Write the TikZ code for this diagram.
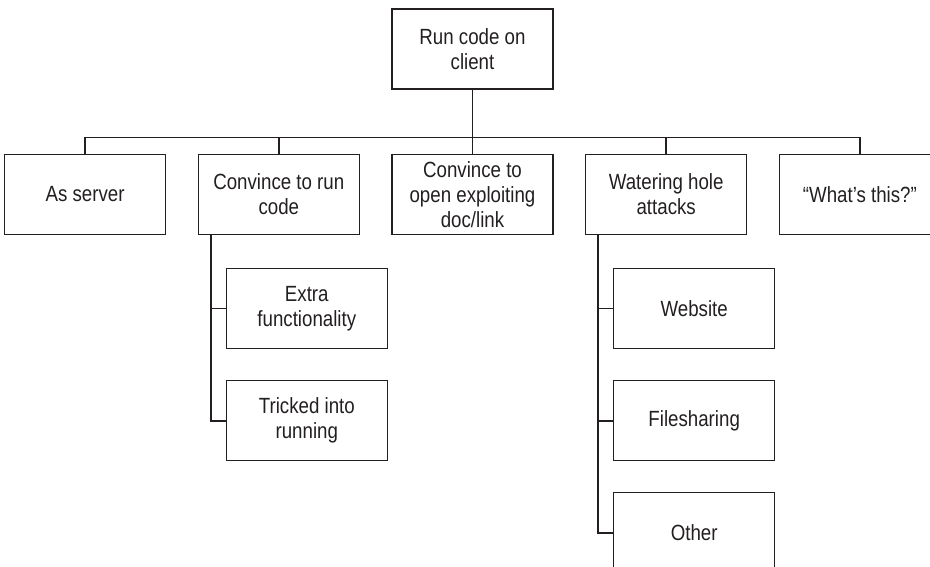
\documentclass[tikz,border=0pt]{standalone}
\usepackage{fontspec}
\setmainfont[FakeStretch=0.85]{Liberation Sans}
\usepackage{tikz}
\usetikzlibrary{positioning,calc}
\definecolor{ink}{HTML}{231F20}

\begin{document}
\begin{tikzpicture}[
			x=1pt,y=1pt,
			node distance=31.5pt and 31.5pt,
			every node/.style={font=\fontsize{22}{25}\selectfont,align=center,text=ink},
			box/.style={draw=ink,line width=1.2pt,minimum height=80pt,minimum width=161pt,inner sep=2pt},
			link/.style={draw=ink,line width=1.8pt}
			]
			\useasboundingbox (0,0) rectangle (930,-567);
			\node[box] (root) at (472.5,-49) {Run code on\\client};
			\node[box,below=64pt of root] (doc) {Convince to\\open exploiting\\doc/link};
			\node[box,left=of doc] (run) {Convince to run\\code};
			\node[box,left=of run] (server) {As server};
			\node[box,right=of doc] (water) {Watering hole\\attacks};
			\node[box,right=of water] (what) {“What’s this?”};
			\node[box,anchor=north west] (extra) at ([xshift=28pt,yshift=-33pt]run.south west) {Extra\\functionality};
			\node[box,below=31pt of extra] (tricked) {Tricked into\\running};
			\node[box,anchor=north west] (website) at ([xshift=28pt,yshift=-33pt]water.south west) {Website};
			\node[box,below=31pt of website] (files) {Filesharing};
			\node[box,below=31pt of files] (other) {Other};
			\coordinate (bus) at ($(root.south)!0.75!(doc.north)$);
			\draw[link] (root.south)--(bus);
			\foreach \n in {server,run,doc,water,what}
				\draw[link] (bus)-|(\n.north);
			\foreach \n in {extra,tricked}
				\draw[link] ([xshift=13pt]run.south west)|-(\n.west);
			\foreach \n in {website,files,other}
				\draw[link] ([xshift=13pt]water.south west)|-(\n.west);
		\end{tikzpicture}
\end{document}
